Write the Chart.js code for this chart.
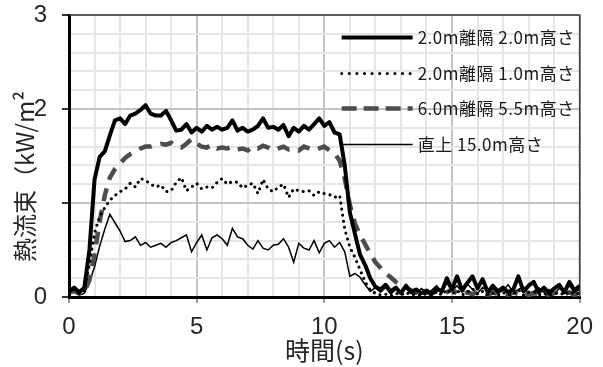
<!DOCTYPE html>
<html lang="ja">
<head>
<meta charset="utf-8">
<script src="https://cdn.jsdelivr.net/npm/chart.js@4.4.1/dist/chart.umd.min.js"></script>
<style>
  html, body { margin: 0; padding: 0; background: #fff; }
</style>
</head>
<body>
<canvas id="heatChart" width="603" height="367"></canvas>
<script>
// sampling interval of the measurements (s)
const timeStep = 0.2;

const seriesNames = [
  '2.0m離隔 2.0m高さ',
  '2.0m離隔 1.0m高さ',
  '6.0m離隔 5.5m高さ',
  '直上 15.0m高さ'
];

// 2.0m離隔 2.0m高さ
const flux2m2m = [
  0.06, 0.10, 0.05, 0.10, 0.50, 1.25, 1.49, 1.55, 1.72, 1.88,
  1.90, 1.84, 1.93, 1.95, 1.99, 2.04, 1.95, 1.93, 1.93, 1.98,
  1.88, 1.77, 1.78, 1.84, 1.75, 1.80, 1.76, 1.82, 1.78, 1.81,
  1.78, 1.80, 1.88, 1.77, 1.80, 1.76, 1.78, 1.82, 1.90, 1.80,
  1.81, 1.78, 1.83, 1.71, 1.80, 1.76, 1.82, 1.78, 1.84, 1.90,
  1.82, 1.86, 1.75, 1.73, 1.40, 0.90, 0.67, 0.45, 0.34, 0.20,
  0.11, 0.08, 0.13, 0.06, 0.10, 0.04, 0.12, 0.05, 0.08, 0.04,
  0.07, 0.03, 0.09, 0.06, 0.20, 0.08, 0.22, 0.07, 0.15, 0.22,
  0.09, 0.19, 0.05, 0.12, 0.06, 0.10, 0.05, 0.08, 0.22, 0.06,
  0.12, 0.16, 0.05, 0.10, 0.04, 0.09, 0.13, 0.05, 0.16, 0.07,
  0.12
];

// 2.0m離隔 1.0m高さ
const flux2m1m = [
  0.04, 0.08, 0.04, 0.06, 0.35, 0.68, 0.86, 0.95, 1.03, 1.08,
  1.12, 1.15, 1.21, 1.17, 1.26, 1.24, 1.20, 1.17, 1.19, 1.12,
  1.13, 1.22, 1.27, 1.13, 1.17, 1.21, 1.15, 1.17, 1.16, 1.22,
  1.26, 1.20, 1.23, 1.22, 1.16, 1.19, 1.21, 1.10, 1.25, 1.15,
  1.12, 1.17, 1.20, 1.06, 1.15, 1.13, 1.12, 1.13, 1.08, 1.12,
  1.10, 1.09, 1.06, 1.08, 0.72, 0.53, 0.42, 0.29, 0.16, 0.07,
  0.04, 0.02, 0.03, 0.01, 0.04, 0.02, 0.05, 0.02, 0.03, 0.01,
  0.04, 0.02, 0.06, 0.02, 0.08, 0.03, 0.07, 0.02, 0.05, 0.09,
  0.03, 0.06, 0.02, 0.04, 0.02, 0.05, 0.02, 0.03, 0.08, 0.02,
  0.05, 0.06, 0.02, 0.04, 0.01, 0.03, 0.05, 0.02, 0.06, 0.03,
  0.04
];

// 6.0m離隔 5.5m高さ
const flux6m55m = [
  0.05, 0.07, 0.04, 0.05, 0.18, 0.45, 0.80, 1.08, 1.27, 1.36,
  1.42, 1.48, 1.52, 1.55, 1.58, 1.60, 1.60, 1.62, 1.63, 1.62,
  1.64, 1.60, 1.59, 1.63, 1.68, 1.63, 1.60, 1.59, 1.62, 1.58,
  1.59, 1.58, 1.60, 1.57, 1.58, 1.56, 1.60, 1.58, 1.61, 1.59,
  1.56, 1.58, 1.60, 1.57, 1.58, 1.56, 1.60, 1.58, 1.56, 1.58,
  1.60, 1.56, 1.53, 1.45, 1.26, 0.98, 0.78, 0.66, 0.56, 0.46,
  0.37, 0.31, 0.25, 0.21, 0.16, 0.13, 0.10, 0.07, 0.06, 0.08,
  0.05, 0.04, 0.06, 0.03, 0.05, 0.08, 0.04, 0.02, 0.05, 0.03,
  0.06, 0.04, 0.02, 0.05, 0.03, 0.04, 0.02, 0.05, 0.03, 0.06,
  0.02, 0.04, 0.03, 0.05, 0.02, 0.04, 0.06, 0.03, 0.05, 0.02,
  0.04
];

// 直上 15.0m高さ
const flux15m = [
  0.03, 0.05, 0.02, 0.04, 0.16, 0.32, 0.54, 0.72, 0.88, 0.79,
  0.70, 0.59, 0.60, 0.64, 0.55, 0.58, 0.53, 0.55, 0.57, 0.53,
  0.58, 0.60, 0.63, 0.66, 0.48, 0.58, 0.66, 0.50, 0.63, 0.66,
  0.62, 0.55, 0.73, 0.64, 0.62, 0.55, 0.51, 0.60, 0.52, 0.50,
  0.55, 0.56, 0.62, 0.53, 0.37, 0.57, 0.52, 0.50, 0.60, 0.47,
  0.57, 0.60, 0.53, 0.58, 0.48, 0.22, 0.25, 0.21, 0.13, 0.06,
  0.10, 0.05, 0.10, 0.03, 0.08, 0.04, 0.11, 0.06, 0.03, 0.09,
  0.05, 0.07, 0.12, 0.04, 0.15, 0.06, 0.12, 0.05, 0.14, 0.08,
  0.04, 0.10, 0.06, 0.09, 0.04, 0.07, 0.13, 0.05, 0.08, 0.11,
  0.04, 0.06, 0.10, 0.05, 0.08, 0.03, 0.09, 0.06, 0.12, 0.05,
  0.08
];

const xTickLabels = [0, 5, 10, 15, 20];
const yTickLabels = [0, 2, 3];

const jpFont = '"Noto Sans CJK JP", "Noto Sans", sans-serif';
const numFont = '"Liberation Sans", sans-serif';

function toPoints(values) {
  return values.map((v, i) => ({ x: +(i * timeStep).toFixed(1), y: v }));
}

const isWhole = v => Math.abs(v - Math.round(v)) < 1e-6;

// legend drawn inside the plot, long line samples on the left
const lineLegend = {
  id: 'lineLegend',
  afterDraw(chart) {
    const ctx = chart.ctx;
    const area = chart.chartArea;
    const x0 = area.right - 238;
    const x1 = area.right - 167;
    ctx.save();
    chart.data.datasets.forEach((ds, i) => {
      const y = Math.round(area.top + 22 + i * 35.6) + 0.5;
      ctx.beginPath();
      ctx.strokeStyle = ds.borderColor;
      ctx.lineWidth = ds.borderWidth;
      ctx.lineCap = ds.borderCapStyle || 'butt';
      ctx.setLineDash(ds.legendDash || []);
      ctx.moveTo(x0, y);
      ctx.lineTo(x1, y);
      ctx.stroke();
      ctx.setLineDash([]);
      ctx.fillStyle = '#1a1a1a';
      ctx.font = '17px ' + jpFont;
      ctx.letterSpacing = '0.5px';
      ctx.textAlign = 'left';
      ctx.textBaseline = 'middle';
      ctx.fillText(ds.label, x1 + 5, y);
      ctx.letterSpacing = '0px';
    });
    ctx.restore();
  }
};

// thin frame on the top and right, rotated y title
const frameAndTitle = {
  id: 'frameAndTitle',
  beforeDatasetsDraw(chart) {
    const ctx = chart.ctx;
    const a = chart.chartArea;
    ctx.save();
    ctx.strokeStyle = '#3a3a3a';
    ctx.lineWidth = 1.5;
    ctx.beginPath();
    ctx.moveTo(a.left, a.top);
    ctx.lineTo(a.right, a.top);
    ctx.lineTo(a.right, a.bottom);
    ctx.stroke();
    ctx.restore();
  },
  afterDraw(chart) {
    const ctx = chart.ctx;
    ctx.save();
    ctx.translate(25, 262);
    ctx.rotate(-Math.PI / 2);
    ctx.fillStyle = '#262626';
    ctx.font = '24px ' + jpFont;
    ctx.textAlign = 'left';
    ctx.textBaseline = 'middle';
    ctx.fillText('熱流束（kW/m²', 0, 0);
    ctx.restore();
  }
};

const ctx = document.getElementById('heatChart').getContext('2d');

new Chart(ctx, {
  type: 'line',
  data: {
    datasets: [
      {
        label: seriesNames[0],
        data: toPoints(flux2m2m),
        borderColor: '#000000',
        borderWidth: 4,
        borderJoinStyle: 'round'
      },
      {
        label: seriesNames[1],
        data: toPoints(flux2m1m),
        borderColor: '#000000',
        borderWidth: 3,
        borderCapStyle: 'round',
        borderDash: [0.1, 6],
        legendDash: [0.1, 7.5]
      },
      {
        label: seriesNames[2],
        data: toPoints(flux6m55m),
        borderColor: '#4d4d4d',
        borderWidth: 4.5,
        borderDash: [13, 9],
        legendDash: [15, 7]
      },
      {
        label: seriesNames[3],
        data: toPoints(flux15m),
        borderColor: '#000000',
        borderWidth: 1.5
      }
    ]
  },
  options: {
    responsive: false,
    animation: false,
    elements: {
      point: { radius: 0 },
      line: { tension: 0, fill: false }
    },
    layout: { padding: { top: 0, right: 21, left: 0, bottom: 0 } },
    plugins: {
      legend: { display: false },
      tooltip: { enabled: false }
    },
    scales: {
      x: {
        type: 'linear',
        min: 0,
        max: 20,
        afterFit: scale => { scale.height = 70; },
        border: { color: '#000000', width: 3 },
        grid: {
          lineWidth: 2,
          color: c => (c.tick && c.tick.value % 5 === 0) ? '#c4c4c4' : '#e6e6e6',
          tickColor: c => (c.tick && c.tick.value % 5 === 0) ? '#9a9a9a' : 'rgba(0,0,0,0)',
          tickLength: 6
        },
        ticks: {
          stepSize: 1,
          autoSkip: false,
          maxRotation: 0,
          padding: 10,
          color: '#262626',
          font: { family: numFont, size: 24 },
          callback: v => xTickLabels.includes(v) ? String(v) : ''
        },
        title: {
          display: true,
          text: '時間(s)',
          color: '#262626',
          font: { family: jpFont, size: 25 },
          padding: { top: 0, bottom: 2 }
        }
      },
      y: {
        min: 0,
        max: 3,
        afterFit: scale => {
          scale.width = 69;
          scale.paddingTop = 15;
          scale.paddingBottom = 0;
        },
        border: { color: '#000000', width: 3 },
        grid: {
          lineWidth: 2,
          color: c => (c.tick && isWhole(c.tick.value)) ? '#c4c4c4' : '#e6e6e6',
          tickColor: c => (c.tick && isWhole(c.tick.value)) ? '#333333' : 'rgba(0,0,0,0)',
          tickLength: 7
        },
        ticks: {
          stepSize: 0.2,
          autoSkip: false,
          padding: 15,
          color: '#262626',
          font: { family: numFont, size: 24 },
          callback: v => (isWhole(v) && yTickLabels.includes(Math.round(v))) ? String(Math.round(v)) : ''
        }
      }
    }
  },
  plugins: [frameAndTitle, lineLegend]
});
</script>
</body>
</html>
